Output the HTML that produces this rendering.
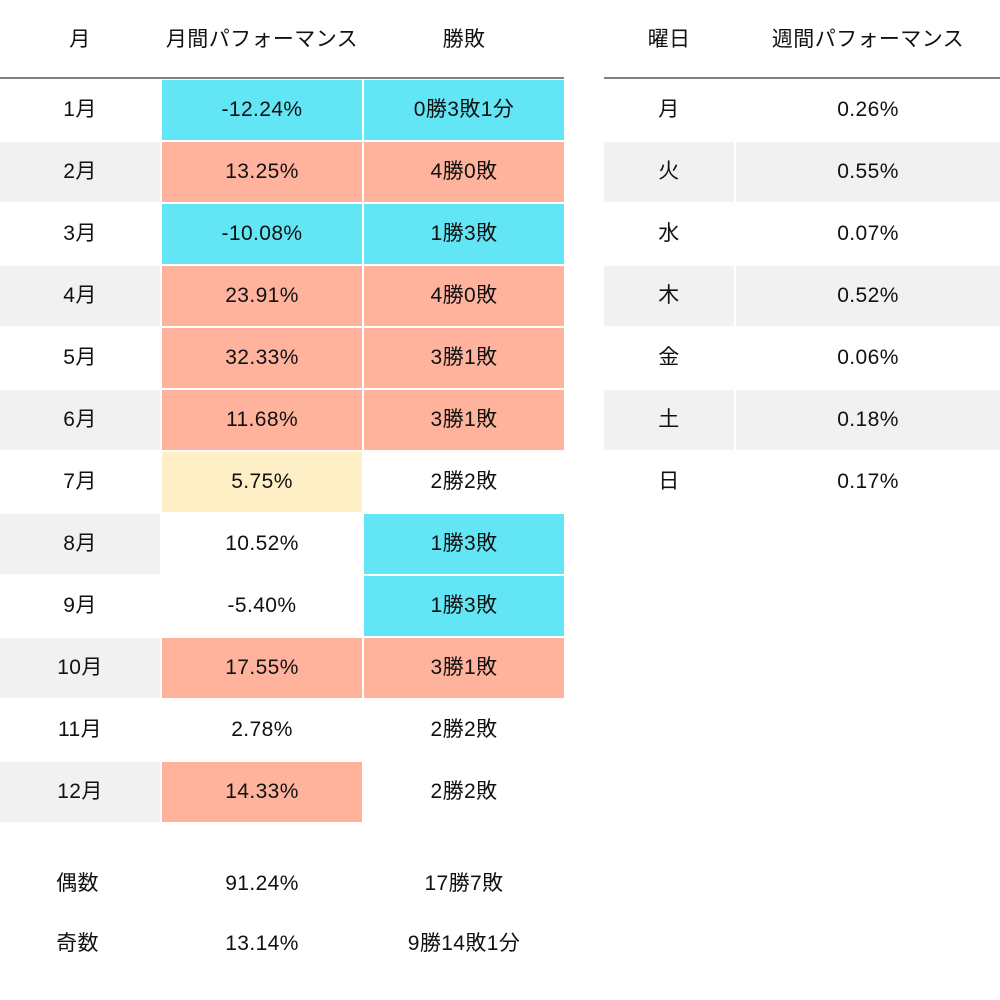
<!DOCTYPE html><html><head><meta charset="utf-8"><style>
body{margin:0;width:1000px;height:1000px;background:#fff;position:relative;font-family:"Liberation Sans","Noto Sans CJK JP",sans-serif;font-size:21px;letter-spacing:0.4px;color:#111;overflow:hidden}
.c{position:absolute;height:60px;line-height:60px;text-align:center}
.h{position:absolute;top:10px;height:60px;line-height:60px;text-align:center}
.l{position:absolute;top:77px;height:2px;background:#808080}
.g{background:#f1f1f1}.b{background:#62e5f4}.s{background:#ffb39d}.y{background:#ffefc7}
</style></head><body>
<div class="h" style="left:0;width:160px">月</div>
<div class="h" style="left:162px;width:200px">月間パフォーマンス</div>
<div class="h" style="left:364px;width:200px">勝敗</div>
<div class="h" style="left:604px;width:130px">曜日</div>
<div class="h" style="left:736px;width:264px">週間パフォーマンス</div>
<div class="l" style="left:0;width:564px"></div>
<div class="l" style="left:604px;width:396px"></div>
<div id="t"></div>
<script>
var d=[["1月","-12.24%","b","0勝3敗1分","b"],["2月","13.25%","s","4勝0敗","s"],["3月","-10.08%","b","1勝3敗","b"],["4月","23.91%","s","4勝0敗","s"],["5月","32.33%","s","3勝1敗","s"],["6月","11.68%","s","3勝1敗","s"],["7月","5.75%","y","2勝2敗",""],["8月","10.52%","","1勝3敗","b"],["9月","-5.40%","","1勝3敗","b"],["10月","17.55%","s","3勝1敗","s"],["11月","2.78%","","2勝2敗",""],["12月","14.33%","s","2勝2敗",""]];
var w=[["月","0.26%"],["火","0.55%"],["水","0.07%"],["木","0.52%"],["金","0.06%"],["土","0.18%"],["日","0.17%"]];
var h="";
d.forEach(function(r,i){var t=80+62*i,g=i%2?"g":"";
h+='<div class="c '+g+'" style="top:'+t+'px;left:0;width:160px">'+r[0]+'</div>';
h+='<div class="c '+r[2]+'" style="top:'+t+'px;left:162px;width:200px">'+r[1]+'</div>';
h+='<div class="c '+r[4]+'" style="top:'+t+'px;left:364px;width:200px">'+r[3]+'</div>';});
w.forEach(function(r,i){var t=80+62*i,g=i%2?"g":"";
h+='<div class="c '+g+'" style="top:'+t+'px;left:604px;width:130px">'+r[0]+'</div>';
h+='<div class="c '+g+'" style="top:'+t+'px;left:736px;width:264px">'+r[1]+'</div>';});
[["偶数","91.24%","17勝7敗",854],["奇数","13.14%","9勝14敗1分",914]].forEach(function(r){
h+='<div class="c" style="top:'+r[3]+'px;left:0;width:155px">'+r[0]+'</div>';
h+='<div class="c" style="top:'+r[3]+'px;left:162px;width:200px">'+r[1]+'</div>';
h+='<div class="c" style="top:'+r[3]+'px;left:364px;width:200px">'+r[2]+'</div>';});
document.getElementById("t").innerHTML=h;
</script>
</body></html>
